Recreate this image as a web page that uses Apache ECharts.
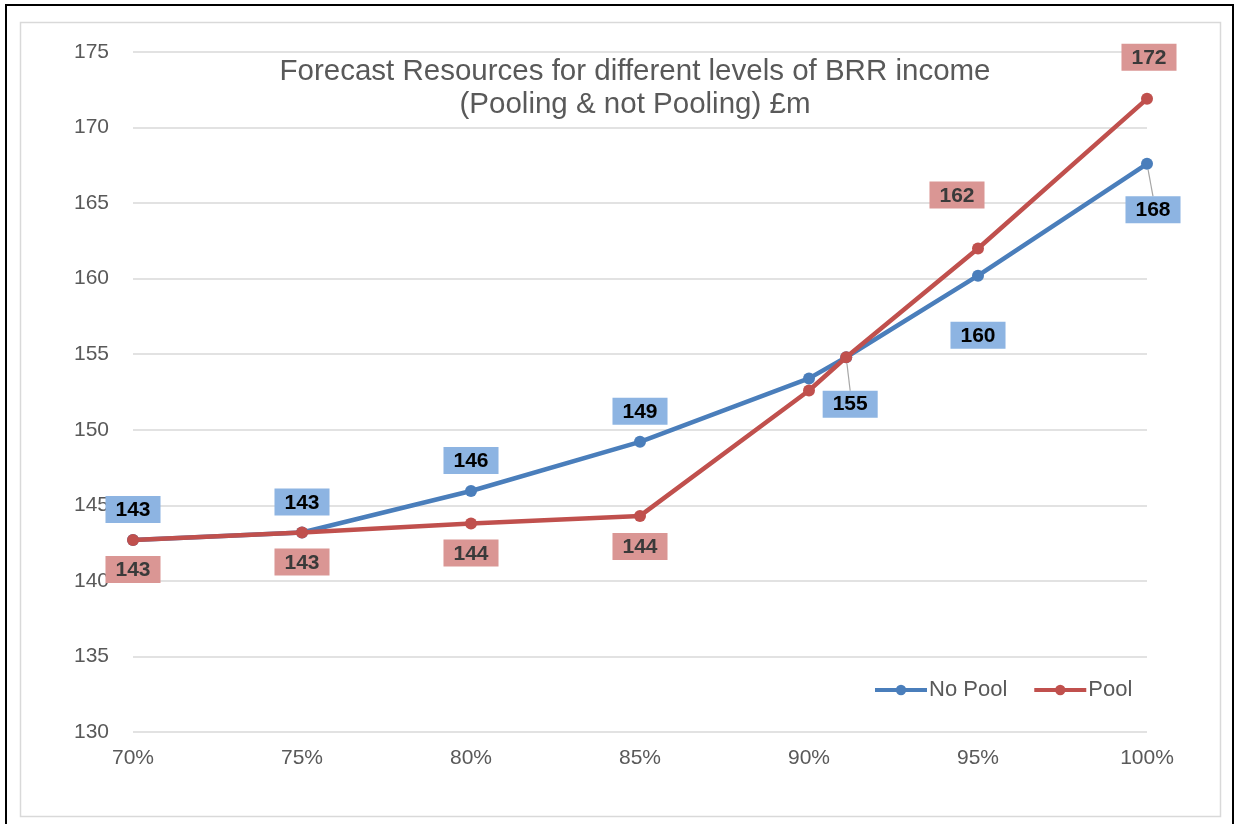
<!DOCTYPE html>
<html>
<head>
<meta charset="utf-8">
<script src="https://cdn.jsdelivr.net/npm/echarts@6/dist/echarts.min.js"></script>
<style>
html,body{margin:0;padding:0;background:#fff;}
#chart{width:1238px;height:824px;}
</style>
</head>
<body>
<div id="chart"></div>
<script>
// Data
const xLevels = [70, 75, 80, 85, 90, 91.1, 95, 100];
const noPool = [142.7, 143.2, 145.95, 149.2, 153.4, 154.8, 160.2, 167.6];
const pool = [142.7, 143.2, 143.8, 144.3, 152.6, 154.8, 162.0, 171.9];
const yTicks = { min: 130, max: 175, interval: 5 };
const xTicks = { min: 70, max: 100, interval: 5 };
const titleLines = ['Forecast Resources for different levels of BRR income', '(Pooling & not Pooling) £m'];
const seriesNames = ['No Pool', 'Pool'];

// label placement per point (style only)
const blueLabelCfg = [
  {position:'top', distance:11},
  {position:'top', distance:11},
  {position:'top', distance:11},
  {position:'top', distance:11},
  null,
  {position:'inside', dx:4, dy:47, line:true},
  {position:'bottom', distance:40, offset:[-7,0]},
  {position:'inside', dx:6, dy:46, line:true}
];
const redLabelCfg = [
  {position:'bottom', distance:10},
  {position:'bottom', distance:10},
  {position:'bottom', distance:10},
  {position:'bottom', distance:11},
  null,
  null,
  {position:'top', distance:34, offset:[-21,0]},
  {position:'top', distance:22, offset:[2,0]}
];

function buildData(vals, cfgs, bg, txt) {
  return vals.map((v, i) => {
    const c = cfgs[i];
    const item = { value: [xLevels[i], v] };
    if (!c) {
      item.label = { show: false };
    } else {
      item.label = {
        show: true,
        position: c.position,
        distance: c.distance || 0,
        offset: c.offset || [0, 0],
        backgroundColor: bg,
        color: txt,
        fontWeight: 'bold',
        fontSize: 21,
        fontFamily: 'Liberation Sans, Arial, sans-serif',
        padding: [4, 10, 2, 10],
        formatter: p => Math.round(p.value[1])
      };
      if (c.line) {
        item.labelLine = { show: true, lineStyle: { color: '#a6a6a6', width: 1.2 } };
      }
    }
    return item;
  });
}

const chart = echarts.init(document.getElementById('chart'));
const font = 'Liberation Sans, Arial, sans-serif';
chart.setOption({
  backgroundColor: '#fff',
  animation: false,
  graphic: [
    { type: 'rect', shape: { x: 6, y: 5, width: 1227, height: 830 }, style: { fill: 'none', stroke: '#000', lineWidth: 2 } },
    { type: 'rect', shape: { x: 20.5, y: 22.5, width: 1200, height: 794 }, style: { fill: 'none', stroke: '#d9d9d9', lineWidth: 1.5 } }
  ],
  title: {
    text: titleLines.join('\n'),
    left: 630,
    top: 50,
    textAlign: 'center',
    textStyle: { fontFamily: font, fontSize: 29.5, fontWeight: 'normal', color: '#595959', lineHeight: 33 }
  },
  legend: {
    left: 873,
    top: 679,
    padding: 0,
    itemWidth: 52,
    itemHeight: 13,
    itemGap: 25,
    lineStyle: { width: 4 },
    textStyle: { fontFamily: font, fontSize: 22, color: '#595959', padding: [0, 0, 0, -3] },
    data: seriesNames
  },
  grid: { left: 133, right: 91, top: 52, bottom: 92, containLabel: false },
  xAxis: {
    type: 'value',
    min: xTicks.min, max: xTicks.max, interval: xTicks.interval,
    axisLine: { show: false },
    axisTick: { show: false },
    splitLine: { show: false },
    axisLabel: { formatter: '{value}%', fontFamily: font, fontSize: 21, color: '#595959', margin: 16 }
  },
  yAxis: {
    type: 'value',
    min: yTicks.min, max: yTicks.max, interval: yTicks.interval,
    axisLine: { show: false },
    axisTick: { show: false },
    splitLine: { lineStyle: { color: '#d9d9d9', width: 1.5 } },
    axisLabel: { fontFamily: font, fontSize: 21, color: '#595959', margin: 24 }
  },
  series: [
    {
      name: seriesNames[0], type: 'line',
      data: buildData(noPool, blueLabelCfg, '#8db4e2', '#000'),
      symbol: 'circle', symbolSize: 12,
      lineStyle: { color: '#4a7ebb', width: 4.5 },
      itemStyle: { color: '#4a7ebb' },
      labelLayout: p => {
        const c = blueLabelCfg[p.dataIndex];
        return (c && c.dy) ? { dx: c.dx, dy: c.dy } : {};
      },
      z: 2
    },
    {
      name: seriesNames[1], type: 'line',
      data: buildData(pool, redLabelCfg, '#da9694', '#3a3a3a'),
      symbol: 'circle', symbolSize: 12,
      lineStyle: { color: '#c0504d', width: 4.5 },
      itemStyle: { color: '#c0504d' },
      z: 3
    }
  ]
});
</script>
</body>
</html>
